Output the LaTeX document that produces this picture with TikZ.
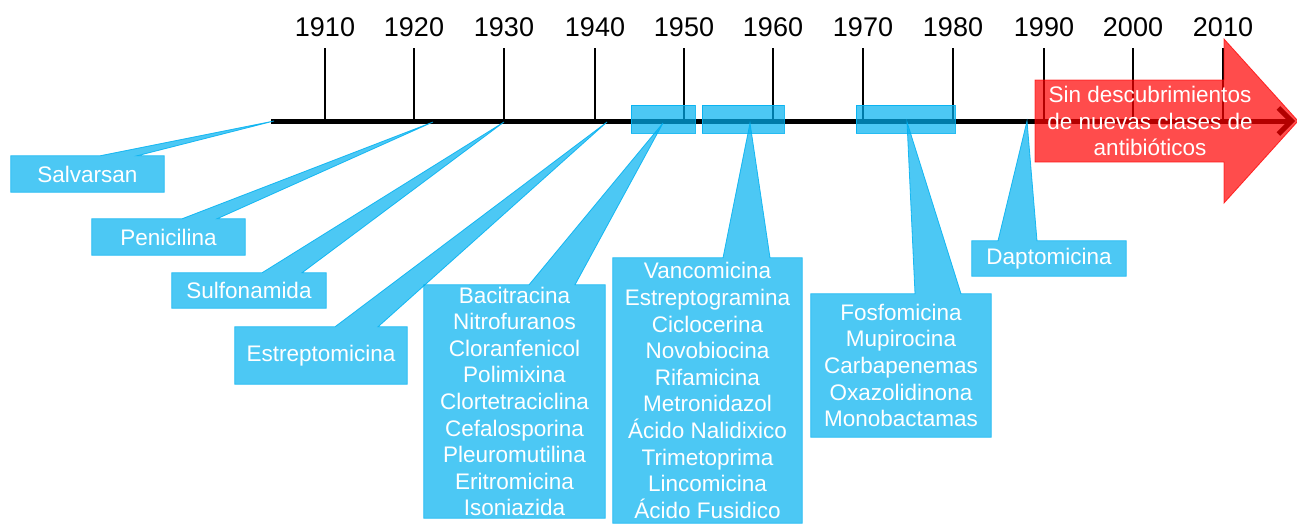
\documentclass[tikz,border=0pt]{standalone}
\usepackage{fontspec}
\setmainfont{Liberation Sans}
\usetikzlibrary{arrows.meta}
\pgfdeclarelayer{bg}
\pgfdeclarelayer{mid}
\pgfsetlayers{bg,mid,main}
\definecolor{cblue}{RGB}{0,176,240}
\definecolor{cred}{RGB}{255,0,0}
\newcommand\mkcallout[4]{%
  \begin{pgfonlayer}{mid}
    \path[callout] (#1.north west) -- (#2,0 |- #1.north) -- (#4) -- (#3,0 |- #1.north)
      -- (#1.north east) -- (#1.south east) -- (#1.south west) -- cycle;
  \end{pgfonlayer}}
\begin{document}
\begin{tikzpicture}[x=1pt,y=-1pt,
  year/.style={font=\fontsize{27}{30}\selectfont, text=black, inner sep=0pt},
  lbl/.style={font=\fontsize{22.5}{26.6}\selectfont, text=white, align=center, inner sep=0pt},
  callout/.style={fill=cblue, fill opacity=0.7, draw=cblue, draw opacity=0.85, line width=0.8pt},
  hl/.style={fill=cblue, fill opacity=0.7, draw=cblue, draw opacity=0.85, line width=0.8pt, inner sep=0pt},
  axisline/.style={line width=5pt},
  tickline/.style={line width=2.5pt},
  redarrow/.style={fill=cred, fill opacity=0.7, draw=cred, draw opacity=0.75, line width=0.8pt},
]
\useasboundingbox (0,0) rectangle (1297,523);

% timeline
\coordinate (axL) at (271,121);
\coordinate (axR) at (1295,121);
\begin{pgfonlayer}{bg}
  \draw[axisline, -{Straight Barb[length=13pt,width=26pt]}] (axL) -- (axR);
\end{pgfonlayer}
\foreach \yr/\x in {1910/325,1920/414,1930/504,1940/595,1950/684,1960/773,1970/863,1980/953,1990/1044,2000/1133,2010/1223}{
  \node[year] (y\yr) at (\x,27) {\yr};
  \coordinate (t\yr) at (\x,48);
  \begin{pgfonlayer}{bg}
    \draw[tickline] (t\yr) -- (t\yr |- axL);
  \end{pgfonlayer}
}

% highlighted decades
\begin{pgfonlayer}{mid}
  \node[hl, minimum width=64pt, minimum height=28pt] (h50) at (663,119) {};
  \node[hl, minimum width=82pt, minimum height=28pt] (h60) at (743,119) {};
  \node[hl, minimum width=99pt, minimum height=28pt] (h70) at (905.5,119) {};
\end{pgfonlayer}

% pointer tips
\coordinate (pSalv) at (274,121);
\coordinate (pPeni) at (433,122);
\coordinate (pSulf) at (504,122);
\coordinate (pEstr) at (607,122);
\coordinate (p50) at (663,123);
\coordinate (p60) at (750,123);
\coordinate (p70) at (907,122);
\coordinate (pDapt) at (1027,121);

% callouts
\node[lbl, minimum width=153pt, minimum height=36pt] (salv) at (87.5,174) {Salvarsan};
\mkcallout{salv}{100}{137}{pSalv}
\node[lbl, minimum width=153pt, minimum height=36pt] (peni) at (168.5,237) {Penicilina};
\mkcallout{peni}{182}{217}{pPeni}
\node[lbl, minimum width=154pt, minimum height=35pt] (sulf) at (249,290.5) {Sulfonamida};
\mkcallout{sulf}{262}{302}{pSulf}
\node[lbl, minimum width=172pt, minimum height=57pt] (estr) at (321,355.5) {Estreptomicina};
\mkcallout{estr}{335}{378}{pEstr}
\node[lbl, minimum width=181pt, minimum height=233pt] (g50) at (514.5,401.5)
  {Bacitracina\\Nitrofuranos\\Cloranfenicol\\Polimixina\\Clortetraciclina\\Cefalosporina\\Pleuromutilina\\Eritromicina\\Isoniazida};
\mkcallout{g50}{529}{575}{p50}
\node[lbl, minimum width=189pt, minimum height=265pt] (g60) at (707.5,390.5)
  {Vancomicina\\Estreptogramina\\Ciclocerina\\Novobiocina\\Rifamicina\\Metronidazol\\Ácido Nalidixico\\Trimetoprima\\Lincomicina\\Ácido Fusidico};
\mkcallout{g60}{723}{770}{p60}
\node[lbl, minimum width=180pt, minimum height=143pt] (g70) at (901,365.5)
  {Fosfomicina\\Mupirocina\\Carbapenemas\\Oxazolidinona\\Monobactamas};
\mkcallout{g70}{915}{961}{p70}
\node[lbl, minimum width=154pt, minimum height=35pt] (dapt) at (1049,258.5) {Daptomicina};
\mkcallout{dapt}{998}{1037}{pDapt}

% red arrow
\coordinate (rA) at (1035,80);
\coordinate (rB) at (1224,80);
\coordinate (rC) at (1224,39);
\coordinate (rTip) at (1298,121);
\coordinate (rD) at (1224,203);
\coordinate (rE) at (1224,162);
\coordinate (rF) at (1035,162);
\begin{pgfonlayer}{mid}
  \path[redarrow] (rA) -- (rB) -- (rC) -- (rTip) -- (rD) -- (rE) -- (rF) -- cycle;
\end{pgfonlayer}
\node[lbl] (nota) at (1150,121) {Sin descubrimientos\\de nuevas clases de\\antibióticos};
\end{tikzpicture}
\end{document}
